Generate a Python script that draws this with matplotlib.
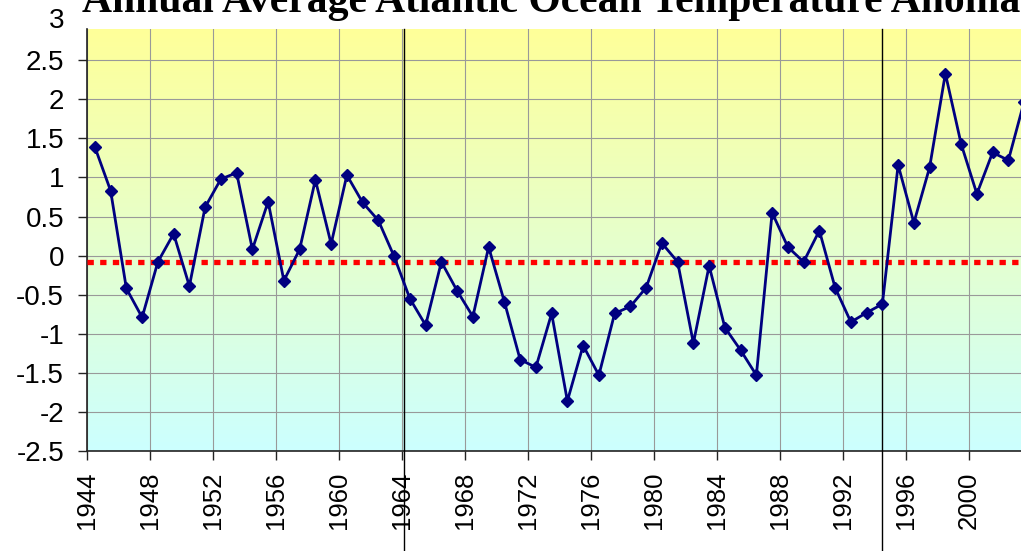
import numpy as np
import matplotlib
matplotlib.use("Agg")
from matplotlib import pyplot as plt
from matplotlib.colors import LinearSegmentedColormap

# annual anomaly values
years = list(range(1944, 2004))
anomaly = [1.39, 0.83, -0.42, -0.79, -0.08, 0.28, -0.39, 0.62, 0.98, 1.06,
           0.08, 0.69, -0.32, 0.08, 0.97, 0.15, 1.03, 0.68, 0.45, -0.01,
           -0.55, -0.89, -0.08, -0.45, -0.78, 0.11, -0.59, -1.33, -1.43, -0.74,
           -1.86, -1.15, -1.53, -0.74, -0.65, -0.41, 0.16, -0.08, -1.12, -0.13,
           -0.92, -1.21, -1.53, 0.55, 0.11, -0.08, 0.32, -0.41, -0.85, -0.73,
           -0.62, 1.16, 0.42, 1.13, 2.33, 1.43, 0.79, 1.32, 1.22, 1.97]
mean_level = -0.08
period_breaks = [1963.65, 1994.0]
xtick_years = list(range(1944, 2001, 4))
ytick_values = [-2.5, -2, -1.5, -1, -0.5, 0, 0.5, 1, 1.5, 2, 2.5]
ytick_labels = ["-2.5", "-2", "-1.5", "-1", "-0.5", "0", "0.5", "1", "1.5", "2", "2.5"]
title = "Annual Average Atlantic Ocean Temperature Anomaly"

W, H = 1021, 551
fig = plt.figure(figsize=(W / 100, H / 100), dpi=100)
fig.patch.set_facecolor("white")
ax = fig.add_axes([87 / W, 100 / H, (W - 87) / W, (451 - 29) / H])

# yellow -> cyan background
cmap = LinearSegmentedColormap.from_list("bg", ["#CCFFFF", "#E6FFCC", "#FFFF99"])
grad = np.linspace(0, 1, 256).reshape(-1, 1)
ax.imshow(grad, cmap=cmap, origin="lower", aspect="auto", extent=[0, 1, 0, 1],
          transform=ax.transAxes, zorder=0)

ax.set_xlim(1943.5, 1943.5 + (W - 86.7) / 15.755)
ax.set_ylim(-2.5, 2.9)

# ticks between categories, like the spreadsheet axis
ax.set_xticks([y - 0.5 for y in xtick_years])
ax.set_xticklabels([str(y) for y in xtick_years], rotation=90,
                   fontsize=18.5, family="Liberation Sans")
ax.set_yticks(ytick_values)
ax.set_yticklabels(ytick_labels, fontsize=20, family="Liberation Sans")
ax.tick_params(axis="both", direction="out", length=6.5, width=1, color="#222222")
ax.tick_params(axis="x", pad=8)
ax.tick_params(axis="y", pad=10)
ax.annotate("3", xy=(0, 3), xycoords=("axes fraction", "data"),
            xytext=(-16.5, 0), textcoords="offset points", ha="right", va="center",
            fontsize=20, family="Liberation Sans", annotation_clip=False)

ax.grid(True, color="#999999", linewidth=0.8)
ax.set_axisbelow(True)
for side in ["top", "right"]:
    ax.spines[side].set_visible(False)
for side in ["left", "bottom"]:
    ax.spines[side].set_color("#222222")
    ax.spines[side].set_linewidth(1.2)

ax.axhline(mean_level, color="#FF0000", linewidth=3.8, linestyle=(0, (1.2, 1.2)),
           dash_capstyle="butt", zorder=3)
for xb in period_breaks:
    ax.axvline(xb, ymin=-0.24, ymax=1, color="black", linewidth=1, clip_on=False, zorder=3)

ax.plot(years, anomaly, color="#000080", linewidth=2, marker="D", markersize=6.5,
        zorder=4)

fig.text(82 / W, 1 - 12 / H, title, ha="left", va="baseline", fontsize=30,
         fontweight="bold", family="Liberation Serif")

fig.savefig("out.png", dpi=100, facecolor="white")
